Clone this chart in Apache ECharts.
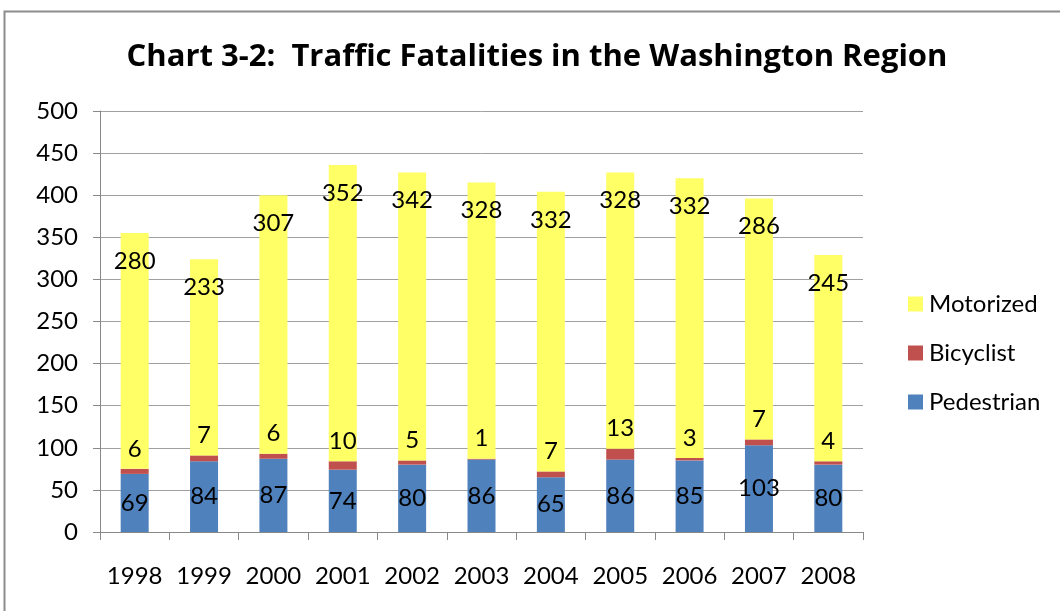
<!DOCTYPE html>
<html>
<head>
<meta charset="utf-8">
<script src="https://cdn.jsdelivr.net/npm/echarts@6/dist/echarts.min.js"></script>
<style>
  html, body { margin: 0; padding: 0; background: #fff; }
  #chart { width: 1060px; height: 611px; }
</style>
</head>
<body>
<div id="chart"></div>
<script>
// data
var years = ['1998', '1999', '2000', '2001', '2002', '2003', '2004', '2005', '2006', '2007', '2008'];
var pedestrian = [69, 84, 87, 74, 80, 86, 65, 86, 85, 103, 80];
var bicyclist = [6, 7, 6, 10, 5, 1, 7, 13, 3, 7, 4];
var motorized = [280, 233, 307, 352, 342, 328, 332, 328, 332, 286, 245];

var font = 'Lato';
var myChart = echarts.init(document.getElementById('chart'));
myChart.setOption({
  animation: false,
  textStyle: { fontFamily: font },
  graphic: [{
    type: 'rect',
    shape: { x: 4.5, y: 11.5, width: 1100, height: 700 },
    style: { fill: 'none', stroke: '#8c8c8c', lineWidth: 2 }
  }],
  title: {
    text: 'Chart 3-2:  Traffic Fatalities in the Washington Region',
    left: 532,
    textAlign: 'center',
    top: 37,
    textStyle: { fontFamily: 'Open Sans', fontSize: 31, fontWeight: 'bold', color: '#000' }
  },
  legend: {
    orient: 'vertical',
    left: 903,
    top: 287,
    itemWidth: 15,
    itemHeight: 15,
    itemGap: 25,
    icon: 'rect',
    data: ['Motorized', 'Bicyclist', 'Pedestrian'],
    textStyle: { fontFamily: font, fontSize: 24, lineHeight: 24, color: '#000', padding: [0, 0, 0, 1] }
  },
  grid: { left: 100, right: 197, top: 111, bottom: 79 },
  xAxis: {
    type: 'category',
    data: years,
    axisLine: { lineStyle: { color: '#888', width: 1 } },
    axisTick: { show: true, length: 8, lineStyle: { color: '#888' } },
    axisLabel: { interval: 0, fontFamily: font, fontSize: 24, color: '#000', margin: 32 }
  },
  yAxis: {
    type: 'value',
    min: 0,
    max: 500,
    interval: 50,
    axisLine: { show: true, lineStyle: { color: '#888' } },
    axisTick: { show: true, length: 7, lineStyle: { color: '#888' } },
    axisLabel: { fontFamily: font, fontSize: 24, color: '#000', margin: 22 },
    splitLine: { lineStyle: { color: '#a0a0a0', width: 1 } }
  },
  series: [{
    name: 'Pedestrian',
    type: 'bar',
    stack: 'all',
    barWidth: 28,
    data: pedestrian,
    itemStyle: { color: '#4F81BD' },
    label: { show: true, position: 'inside', fontFamily: font, fontSize: 24, color: '#000' }
  }, {
    name: 'Bicyclist',
    type: 'bar',
    stack: 'all',
    data: bicyclist,
    itemStyle: { color: '#C0504D' },
    label: { show: true, position: 'top', distance: 8, fontFamily: font, fontSize: 24, color: '#000' }
  }, {
    name: 'Motorized',
    type: 'bar',
    stack: 'all',
    data: motorized,
    itemStyle: { color: '#FFFF66' },
    label: { show: true, position: 'insideTop', distance: 16, fontFamily: font, fontSize: 24, color: '#000' }
  }]
});
</script>
</body>
</html>
